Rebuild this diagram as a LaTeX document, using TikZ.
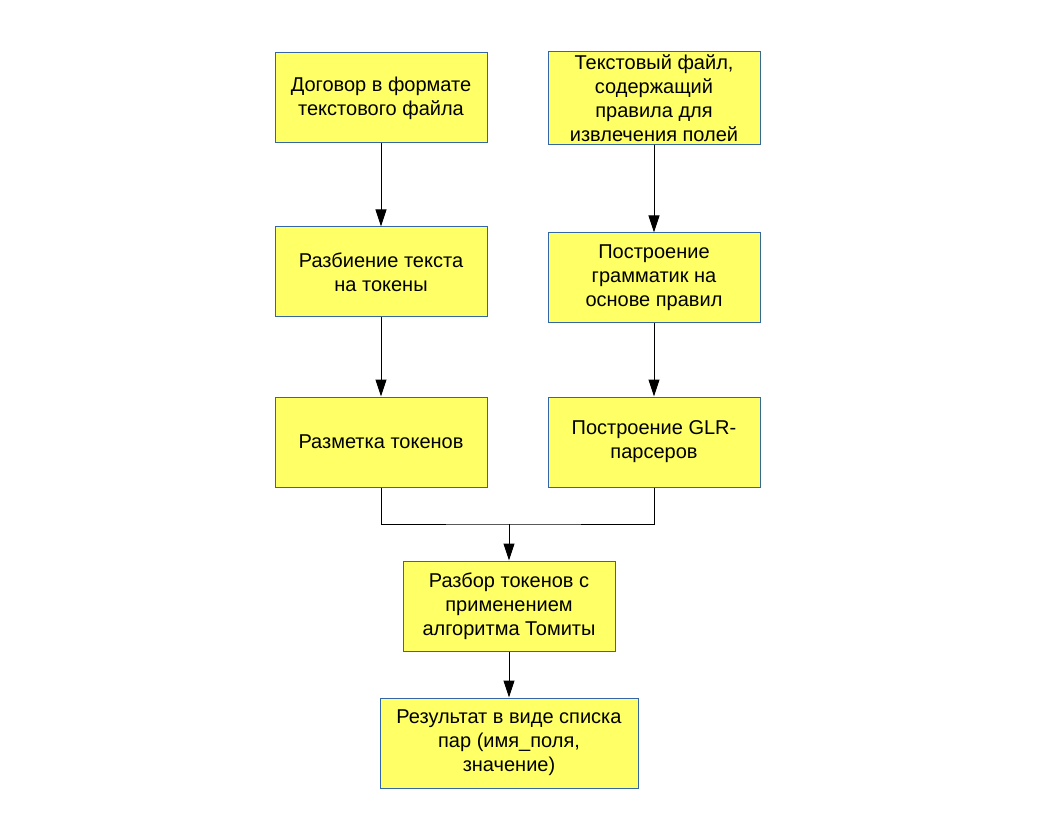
\documentclass[tikz,border=0pt]{standalone}
\usepackage{fontspec}
\setmainfont{Liberation Sans}
\usepackage{xcolor}
\usepackage{tikz}
\usetikzlibrary{arrows.meta}
\definecolor{boxfill}{HTML}{FFFF66}
\definecolor{boxline}{HTML}{3465A4}
\tikzset{
  stage/.style={draw=boxline, line width=0.75pt, fill=boxfill, align=center,
    minimum width=159pt, minimum height=67.5pt, inner sep=2pt,
    font=\fontsize{15}{18}\selectfont},
  flow/.style={line width=0.75pt, -{Triangle[length=12.75pt,width=8.25pt]}}
}
\begin{document}
\begin{tikzpicture}[x=0.75pt,y=-0.75pt]
    \useasboundingbox (0,0) rectangle (1056,816);
    % left column
    \node[stage] (contract) at (381,98) {Договор в формате\\текстового файла};
    \node[stage] (split) at (381,272) {Разбиение текста\\на токены};
    \node[stage] (markup) at (381,442) {Разметка токенов};
    % right column
    \node[stage] (rules) at (654,98) {Текстовый файл,\\содержащий\\правила для\\извлечения полей};
    \node[stage] (grammar) at (654,278) {Построение\\грамматик на\\основе правил};
    \node[stage] (glr) at (654,442) {Построение GLR-\\парсеров};
    % bottom
    \node[stage] (parse) at (509,606) {Разбор токенов с\\применением\\алгоритма Томиты};
    \node[stage, minimum width=193.5pt] (result) at (509,743) {Результат в виде списка\\пар (имя\_поля,\\значение)};
    \coordinate (join) at (509,524);
    \draw[flow] (contract) -- (split);
    \draw[flow] (split) -- (markup);
    \draw[flow] (rules) -- (grammar);
    \draw[flow] (grammar) -- (glr);
    \draw[line width=0.75pt] (markup.south) |- (join) -| (glr.south);
    \draw[flow] (join) -- (parse);
    \draw[flow] (parse) -- (result);
\end{tikzpicture}
\end{document}
